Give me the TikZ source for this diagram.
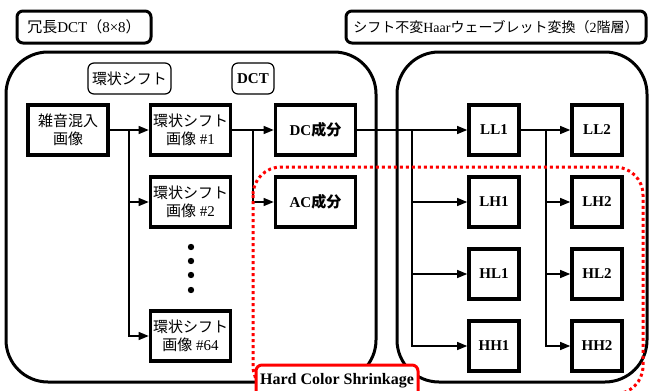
\documentclass[tikz,border=0pt]{standalone}
\usepackage{fontspec}
\setmainfont{Liberation Serif}
\newfontfamily\jp{Noto Sans CJK JP}
\usetikzlibrary{arrows.meta}
\tikzset{
  blk/.style={draw, line width=3.6pt, minimum width=80pt, minimum height=50pt, align=center, inner sep=0pt, font=\fontsize{15}{18}\selectfont, fill=white},
  sq/.style={blk, minimum width=50pt},
  lbl/.style={draw, line width=1.2pt, rounded corners=6pt, align=center, inner sep=0pt, font=\fontsize{15}{18}\selectfont},
  ttl/.style={draw, line width=3pt, rounded corners=6pt, align=center, inner sep=0pt, minimum height=32pt, font=\fontsize{15}{18}\selectfont},
  big/.style={draw, line width=3pt, rounded corners=42pt},
  conn/.style={line width=1.2pt, -{Triangle[length=10pt,width=8pt]}},
  reddot/.style={draw=red, line width=3pt, dash pattern=on 3pt off 3pt, rounded corners=28pt},
}
\begin{document}
\begin{tikzpicture}[x=1pt,y=1pt]
\useasboundingbox (0,0) rectangle (649,-391);
% big frames
\draw[big] (6,-52) rectangle (376,-382);
\draw[big] (397,-52) rectangle (647,-382);
% titles
\node[ttl, minimum width=134pt] (t1) at (84,-27) {{\jp 冗長}DCT{\jp （}8×8{\jp ）}};
\node[ttl, minimum width=300pt, font=\fontsize{14}{17}\selectfont] (t2) at (496,-27) {{\jp シフト不変}Haar{\jp ウェーブレット変換（}2{\jp 階層）}};
% labels
\node[lbl, minimum width=83pt, minimum height=31pt] (l1) at (129.5,-78.5) {\jp 環状シフト};
\node[lbl, minimum width=42pt, minimum height=31pt] (l2) at (253,-78.5) {\textbf{DCT}};
% blocks
\node[blk] (noisy) at (68,-130) {{\jp 雑音混入}\\{\jp 画像}};
\node[blk] (s1) at (190.5,-130) {{\jp 環状シフト}\\{\jp 画像} \#1};
\node[blk] (s2) at (190.5,-202) {{\jp 環状シフト}\\{\jp 画像} \#2};
\node[blk] (s64) at (190.5,-336) {{\jp 環状シフト}\\{\jp 画像} \#64};
\node[blk] (dc) at (315.5,-130) {\textbf{DC}{\jp\bfseries 成分}};
\node[blk] (ac) at (315.5,-202) {\textbf{AC}{\jp\bfseries 成分}};
\foreach \y in {247,261,275,290} \fill (191,-\y) circle (3.2pt);
\node[sq] (ll1) at (494,-130) {\textbf{LL1}};
\node[sq] (lh1) at (494,-202) {\textbf{LH1}};
\node[sq] (hl1) at (494,-274) {\textbf{HL1}};
\node[sq] (hh1) at (494,-346) {\textbf{HH1}};
\node[sq] (ll2) at (597,-130) {\textbf{LL2}};
\node[sq] (lh2) at (597,-202) {\textbf{LH2}};
\node[sq] (hl2) at (597,-274) {\textbf{HL2}};
\node[sq] (hh2) at (597,-346) {\textbf{HH2}};
% connectors
\coordinate (b1) at (129,-130);
\coordinate (b2) at (253,-130);
\coordinate (b3) at (412,-130);
\coordinate (b4) at (546,-130);
\draw[conn] (noisy.east) -- (s1.west);
\draw[conn] (b1) |- (s2.west);
\draw[conn] (b1) |- (s64.west);
\draw[conn] (s1.east) -- (dc.west);
\draw[conn] (b2) |- (ac.west);
\draw[conn] (dc.east) -- (ll1.west);
\draw[conn] (b3) |- (lh1.west);
\draw[conn] (b3) |- (hl1.west);
\draw[conn] (b3) |- (hh1.west);
\draw[conn] (ll1.east) -- (ll2.west);
\draw[conn] (b4) |- (lh2.west);
\draw[conn] (b4) |- (hl2.west);
\draw[conn] (b4) |- (hh2.west);
% red region
\draw[reddot] (253,-167) rectangle (643,-394);
\node[draw=red, line width=3pt, rounded corners=6pt, fill=white, minimum width=162pt, minimum height=34pt, inner sep=0pt, anchor=north west, font=\fontsize{16}{18}\selectfont\bfseries] (hcs) at (254.5,-363.5) {\raisebox{6pt}{Hard Color Shrinkage}};
\end{tikzpicture}
\end{document}
